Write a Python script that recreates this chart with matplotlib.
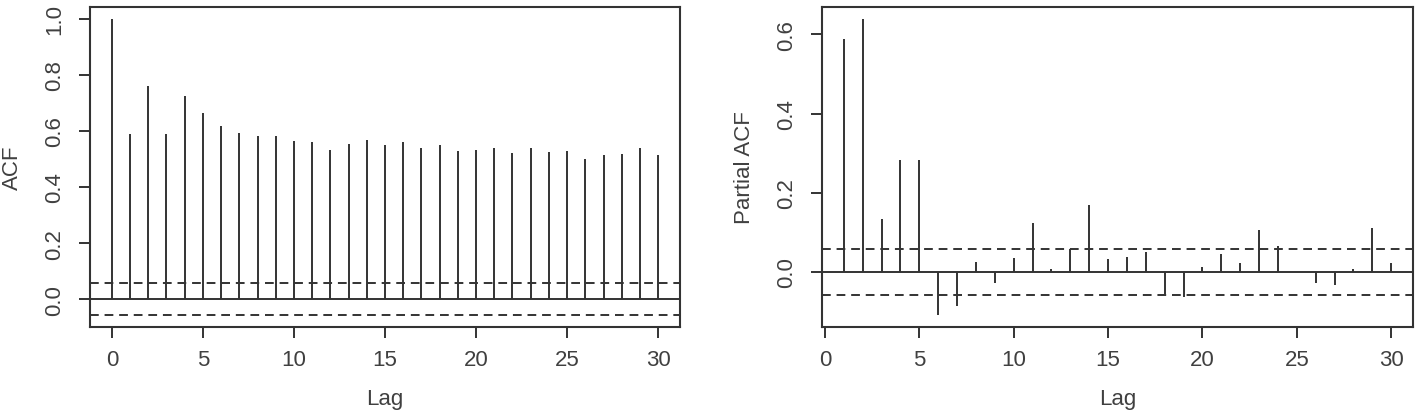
import numpy as np
import matplotlib.pyplot as plt

plt.rcParams['font.family'] = ['Liberation Sans', 'DejaVu Sans']

# ACF values (lag 0..30)
acf_lags = list(range(0, 31))
acf_vals = [1.0, 0.588, 0.761, 0.588, 0.724, 0.663, 0.616, 0.594, 0.582, 0.582,
            0.566, 0.561, 0.533, 0.555, 0.567, 0.551, 0.561, 0.538, 0.550, 0.529,
            0.533, 0.539, 0.523, 0.539, 0.524, 0.529, 0.501, 0.513, 0.517, 0.539,
            0.513]

# PACF values (lag 1..30)
pacf_lags = list(range(1, 31))
pacf_vals = [0.589, 0.639, 0.134, 0.283, 0.283, -0.109, -0.086, 0.024, -0.029, 0.035,
             0.123, 0.008, 0.057, 0.168, 0.032, 0.039, 0.050, -0.055, -0.063, 0.013,
             0.046, 0.023, 0.107, 0.065, 0.0, -0.029, -0.034, 0.008, 0.112, 0.023]

ci = 0.057  # confidence band
ink = '#333333'
txt = '#404040'

fig = plt.figure(figsize=(14.17, 4.14), dpi=100)
ax1 = fig.add_axes([90/1417, 86/414, 590/1417, 320/414])
ax2 = fig.add_axes([822/1417, 86/414, 591/1417, 320/414])


def r_style(ax, lags, vals, ylabel, yticks):
    ax.vlines(lags, 0, vals, color=ink, lw=1.4)
    ax.axhline(0, color=ink, lw=1.4)
    for c in (ci, -ci):
        ax.axhline(c, color=ink, lw=1.4, ls=(0, (4.5, 3)))
    # R default 4% axis extension
    xlo, xhi = min(lags), max(lags)
    ylo, yhi = min(min(vals), -ci), max(max(vals), ci)
    dx, dy = 0.04 * (xhi - xlo), 0.04 * (yhi - ylo)
    ax.set_xlim(xlo - dx, xhi + dx)
    ax.set_ylim(ylo - dy, yhi + dy)
    ax.set_xticks([0, 5, 10, 15, 20, 25, 30])
    ax.set_yticks(yticks)
    ax.set_yticklabels([f'{t:.1f}' for t in yticks])
    for s in ax.spines.values():
        s.set_color(ink)
        s.set_linewidth(1.5)
    ax.tick_params(axis='both', direction='out', length=8, width=1.4,
                   color=ink, labelcolor=txt, labelsize=16)
    ax.tick_params(axis='x', pad=8)
    ax.tick_params(axis='y', pad=10, labelrotation=90)
    for lbl in ax.get_yticklabels():
        lbl.set_va('center')
    ax.set_xlabel('Lag', fontsize=16, color=txt, labelpad=13)
    ax.set_ylabel(ylabel, fontsize=16, color=txt, labelpad=15)


r_style(ax1, acf_lags, acf_vals, 'ACF', [0.0, 0.2, 0.4, 0.6, 0.8, 1.0])
r_style(ax2, pacf_lags, pacf_vals, 'Partial ACF', [0.0, 0.2, 0.4, 0.6])

fig.savefig('out.png', dpi=100)
